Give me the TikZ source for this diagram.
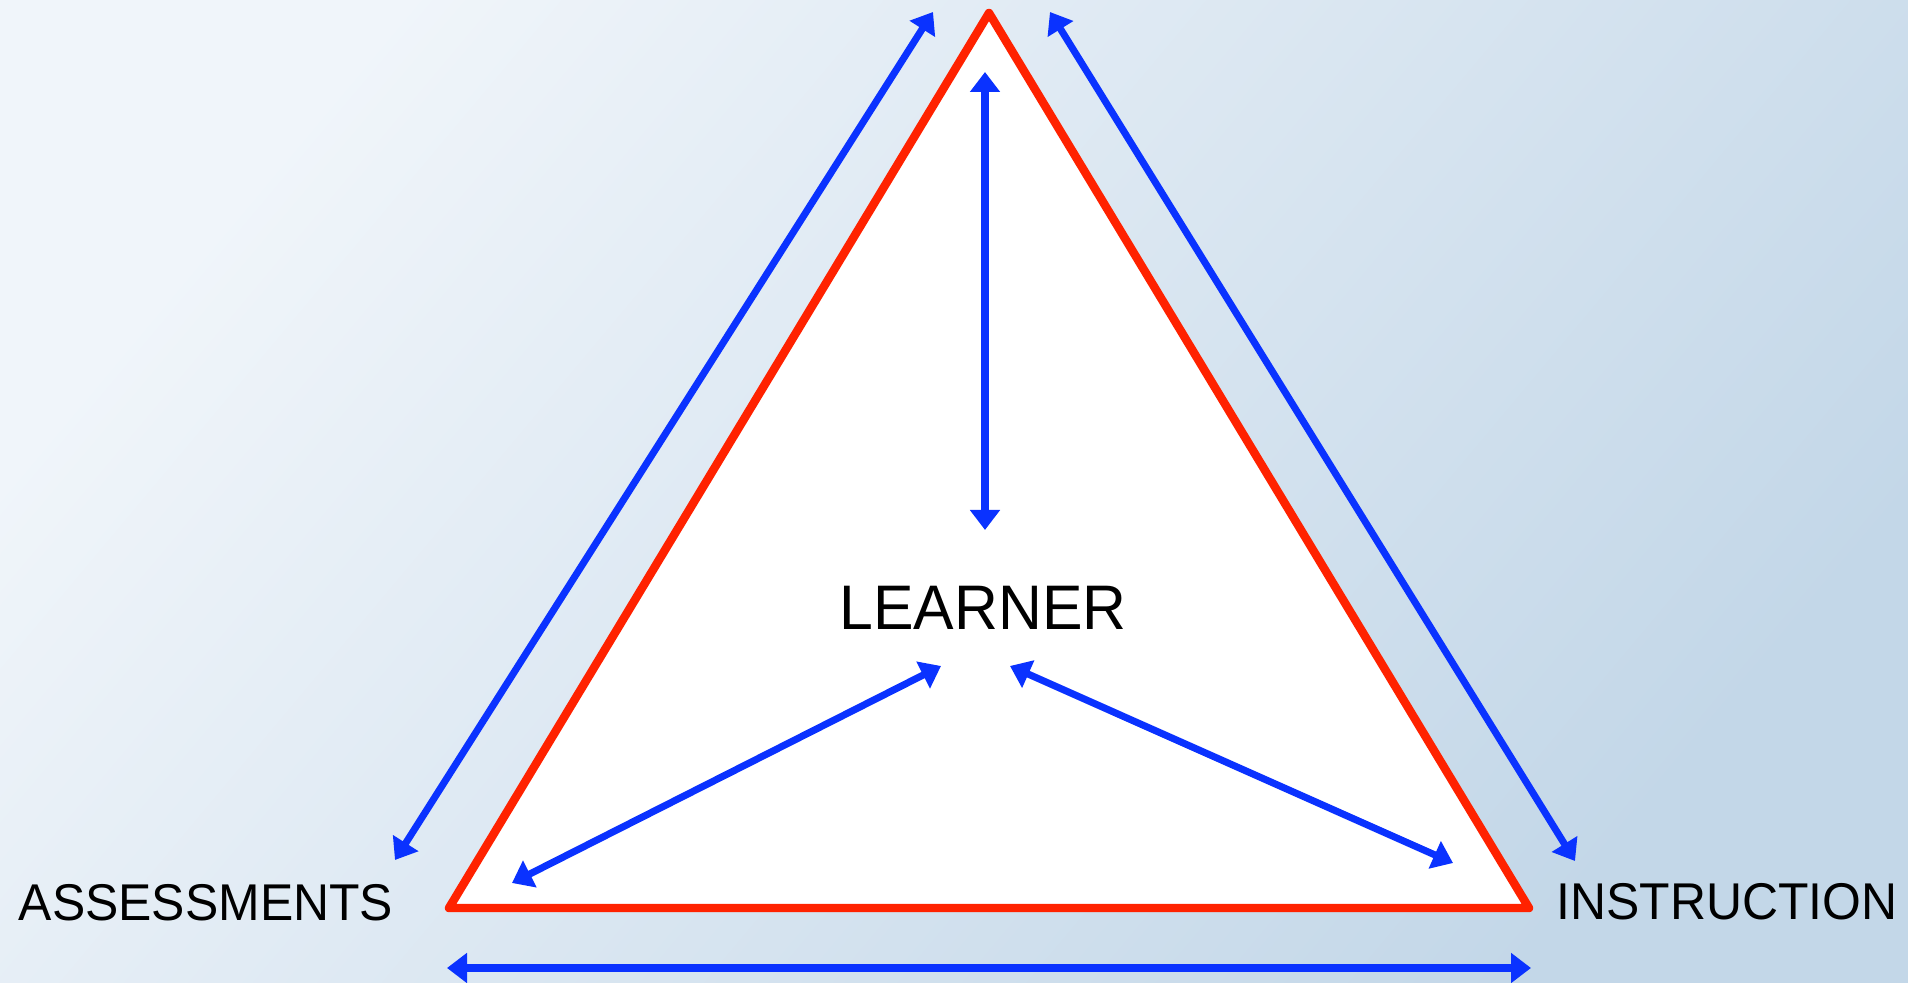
\documentclass[tikz,border=0pt]{standalone}
\usepackage{fontspec}
\setmainfont{Liberation Sans}
\usetikzlibrary{arrows.meta}

\definecolor{bgtop}{HTML}{F0F5FA}
\definecolor{bgbot}{HTML}{C3D7E8}
\definecolor{trired}{HTML}{FF2200}
\definecolor{linkblue}{HTML}{0A32FF}

\begin{document}
\begin{tikzpicture}[x=0.01cm, y=-0.01cm,
    link/.style={{Triangle[length=2mm,width=2.9mm]}-{Triangle[length=2mm,width=2.9mm]}, linkblue, line width=2pt},
    label/.style={inner sep=0pt, font=\fontsize{14.7}{17}\selectfont, xscale=0.965}]
    % Background
    \shade[top color=bgtop, bottom color=bgbot, shading angle=50] (0,0) rectangle (1908,983);
    \useasboundingbox (0,0) rectangle (1908,983);

    % Triangle corners
    \coordinate (apex) at (989,13);
    \coordinate (left) at (449,908);
    \coordinate (right) at (1529,908);
    \draw[trired, line width=2.4pt, fill=white, line join=round] (apex) -- (left) -- (right) -- cycle;

    % Labels
    \node[label] (assess) at (206,903) {ASSESSMENTS};
    \node[label] (instr) at (1727,902) {INSTRUCTION};
    \node[label, font=\fontsize{17.9}{21}\selectfont, xscale=1] (learner) at (983,608) {LEARNER};

    % Outer arrows
    \coordinate (outLa) at (395,860);
    \coordinate (outLb) at (933,12);
    \coordinate (outRa) at (1050,12);
    \coordinate (outRb) at (1575,861);
    \coordinate (baseA) at (447,968);
    \coordinate (baseB) at (1531,968);
    \draw[link] (outLa) -- (outLb);
    \draw[link] (outRa) -- (outRb);
    \draw[link] (baseA) -- (baseB);

    % Inner arrows to the learner
    \coordinate (topA) at (985,72);
    \coordinate (topB) at (985,530);
    \coordinate (inLa) at (512,883);
    \coordinate (inLb) at (941,666);
    \coordinate (inRa) at (1010,666);
    \coordinate (inRb) at (1453,863);
    \draw[link] (topA) -- (topB);
    \draw[link] (inLa) -- (inLb);
    \draw[link] (inRa) -- (inRb);
\end{tikzpicture}
\end{document}
